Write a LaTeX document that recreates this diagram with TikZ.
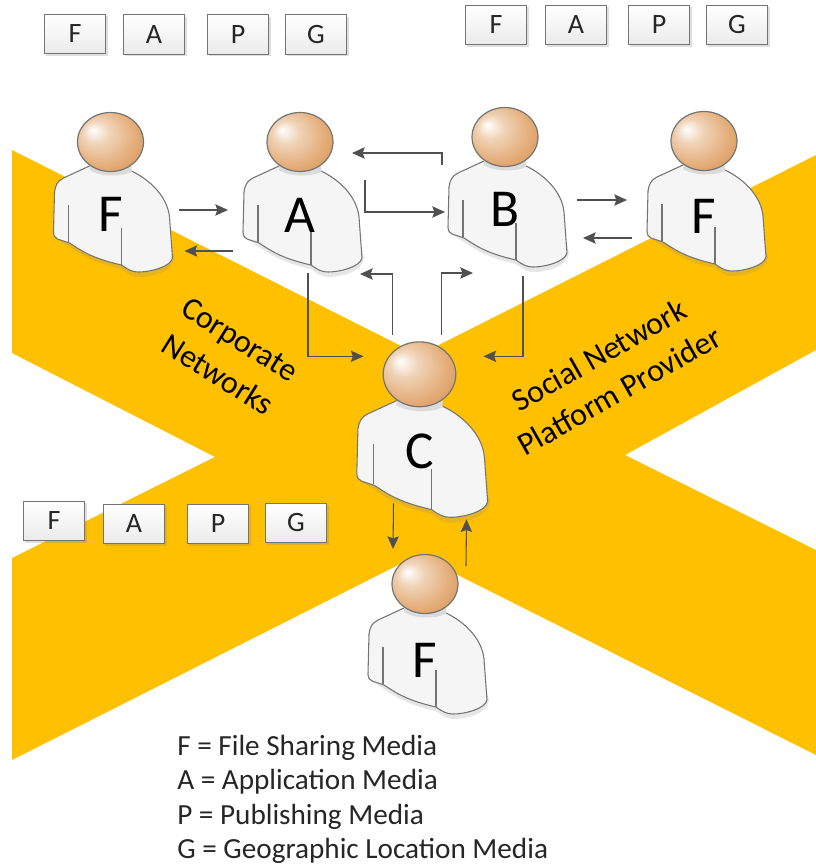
\documentclass[tikz,border=0pt]{standalone}
\usepackage{fontspec}
\setmainfont{Carlito}
\usetikzlibrary{shapes,arrows.meta,positioning,shadows}

\definecolor{bandyellow}{HTML}{FFC000}
\definecolor{outline}{HTML}{747474}
\definecolor{arrowgray}{HTML}{505050}
\definecolor{skinA}{HTML}{F0D4B8}
\definecolor{skinB}{HTML}{E4AC78}
\definecolor{skinC}{HTML}{C67C36}

\pgfdeclareradialshading{headball}{\pgfpoint{-0.48cm}{0.36cm}}{
  color(0cm)=(white);
  color(0.35cm)=(skinA);
  color(0.9cm)=(skinB);
  color(1.7cm)=(skinC)
}

% one person: name, x, y, scale, letter, letter height
\newcommand{\person}[6]{
  \begin{scope}[shift={(#2,#3)},scale=#4]
    \path [fill=black!45, opacity=0.22] (-56,75) -- (-57,95) -- (-41,105) .. controls (-30,112) and (-20,120) .. (11,127) .. controls (18,132) and (22,135) .. (28,135) .. controls (42,135) and (62,130) .. (64,116) -- (60,100) -- cycle;
    \draw [bodyline, fill=black!4] (-21,24) -- (-47,36) .. controls (-53,39) and (-55,43) .. (-56,50) -- (-57,90) .. controls (-57,94) and (-55,96) .. (-53,97) -- (-41,101) .. controls (-30,108) and (-20,116) .. (11,123) .. controls (18,128) and (22,130) .. (28,130) .. controls (40,130) and (60,125) .. (62,116) -- (59,75) .. controls (57,55) and (40,38) .. (21,29) -- cycle;
    \fill [black!14] (-21,24) -- (-21,28) .. controls (-10,35) and (10,35) .. (21,30) -- (21,24) -- cycle;
    \draw [bodyline] (-42,63) -- (-42,100);
    \draw [bodyline] (11,86) -- (11,123);
    \shade [shading=headball, draw=outline, line width=0.9pt] (0,0) ellipse (33 and 29.5);
    \node (#1) [personlabel] at (0,#6) {#5};
  \end{scope}
}

\begin{document}
\begin{tikzpicture}[x=0.75pt,y=-0.75pt]

        % define styles
        \tikzstyle{bodyline} = [draw=outline, line width=0.8pt]
        \tikzstyle{personlabel} = [inner sep=0pt, font=\fontsize{40}{42}\selectfont, text=black]
        \tikzstyle{mediabox} = [rectangle, minimum width=46pt, minimum height=29.5pt, inner sep=0pt, draw=outline, line width=0.8pt, top color=white, bottom color=black!8, drop shadow={shadow xshift=1.5pt, shadow yshift=-1.5pt, opacity=0.25}, font=\fontsize{21}{23}\selectfont, text=black!85]
        \tikzstyle{bandtext} = [align=center, font=\fontsize{24}{31}\selectfont, text=black]
        \tikzstyle{legendtext} = [anchor=base west, inner sep=0pt, font=\fontsize{21.9}{24}\selectfont, text=black!85]
        \tikzstyle{arrow} = [draw=arrowgray, line width=0.8pt, -{Stealth[length=9.5pt, width=8.5pt, inset=1.5pt]}]

        \useasboundingbox (0,0) rectangle (816,865);

        % the crossing bands
        \fill [bandyellow] (12,150) -- (419,355) -- (816,155) -- (816,350) -- (625,455) -- (816,550) -- (816,755) -- (418,555) -- (12,760) -- (12,558) -- (215,457) -- (12,353) -- cycle;

        % media boxes
        \node (mediaF) [mediabox] at (75,34) {F};
        \node (mediaA) [mediabox] at (154,34.5) {A};
        \node (mediaP) [mediabox] at (238,34.5) {P};
        \node (mediaG) [mediabox] at (316,34.5) {G};
        \node (platformF) [mediabox] at (496,25) {F};
        \node (platformA) [mediabox] at (576,25) {A};
        \node (platformP) [mediabox] at (659,25) {P};
        \node (platformG) [mediabox] at (737,25) {G};
        \node (lowerF) [mediabox] at (54,521) {F};
        \node (lowerA) [mediabox] at (134,524) {A};
        \node (lowerP) [mediabox] at (218,524) {P};
        \node (lowerG) [mediabox] at (296,523) {G};

        % band labels
        \node (corporate) [bandtext, rotate=-32] at (229,357) {Corporate\\Networks};
        \node (social) [bandtext, rotate=29.5] at (609,373) {Social Network\\Platform Provider};

        % people
        \person{userF}{110.5}{142}{1}{F}{72}
        \person{userA}{300}{142}{1}{A}{73}
        \person{userB}{505}{137}{1}{B}{72}
        \person{userR}{704}{141}{1}{F}{75}
        \person{userC}{419.5}{374.3}{1.1}{C}{70}
        \person{userL}{425}{584}{1}{F}{76}

        % legend
        \node (legendF) [legendtext] at (177,755.5) {F = File Sharing Media};
        \node (legendA) [legendtext] at (177,789.5) {A = Application Media};
        \node (legendP) [legendtext] at (177,824) {P = Publishing Media};
        \node (legendG) [legendtext] at (177,858.5) {G = Geographic Location Media};

        % connect people
        \draw [arrow] ([shift={(68,-4)}]userF.center) -- ([shift={(-72,-5)}]userA.center);
        \draw [arrow] ([shift={(-67,36)}]userA.center) -- ([shift={(74,37)}]userF.center);
        \draw [arrow] ([shift={(-63,-44)}]userB.center) |- ([shift={(52,-62)}]userA.center);
        \draw [arrow] ([shift={(65,-35)}]userA.center) |- ([shift={(-60,3)}]userB.center);
        \draw [arrow] ([shift={(8,58)}]userA.center) |- ([shift={(-56,-95)}]userC.center);
        \draw [arrow] ([shift={(-27,-116)}]userC.center) |- ([shift={(60,59)}]userA.center);
        \draw [arrow] ([shift={(22,-116)}]userC.center) |- ([shift={(-32,64)}]userB.center);
        \draw [arrow] ([shift={(18,67)}]userB.center) |- ([shift={(64,-95)}]userC.center);
        \draw [arrow] ([shift={(72,-9)}]userB.center) -- ([shift={(-77,-16)}]userR.center);
        \draw [arrow] ([shift={(-72,22)}]userR.center) -- ([shift={(78,29)}]userB.center);
        \draw [arrow] ([shift={(-26,52)}]userC.center) -- ([shift={(-32,-111)}]userL.center);
        \draw [arrow] ([shift={(41,-94)}]userL.center) -- ([shift={(47,68)}]userC.center);

    \end{tikzpicture}
\end{document}
